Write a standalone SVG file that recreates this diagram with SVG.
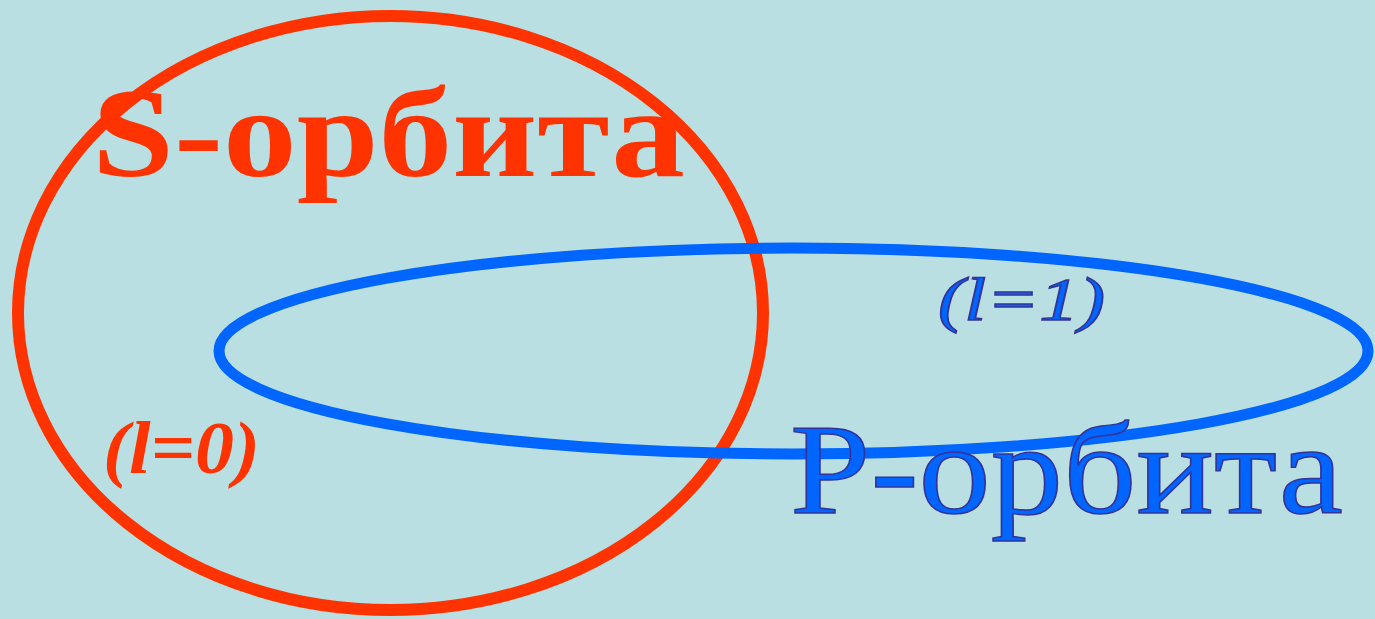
<svg xmlns="http://www.w3.org/2000/svg" width="1375" height="619" viewBox="0 0 1375 619">
  <style>
    .orb { fill: none; }
    .red { fill: #FF3300; }
    .blue { fill: #0066FF; stroke: #333399; stroke-width: 1.5; }
    .big { font-family: "Liberation Serif", "DejaVu Serif", serif; }
    .it { font-family: "Liberation Serif", "DejaVu Serif", serif; font-style: italic; }
  </style>
  <rect width="1375" height="619" fill="#B9DFE2"/>
  <g id="connectors"></g>
  <g id="s-orbit">
    <ellipse class="orb" cx="390.5" cy="313" rx="372.5" ry="297" stroke="#FF3300" stroke-width="12"/>
  </g>
  <g id="p-orbit">
    <ellipse class="orb" cx="793.5" cy="351" rx="574.5" ry="103" stroke="#0066FF" stroke-width="11"/>
  </g>
  <g id="s-label">
    <text class="big red" x="92" y="176" font-size="127" font-weight="bold" textLength="593" lengthAdjust="spacingAndGlyphs">S-орбита</text>
    <text class="it red" x="103" y="473" font-size="74" font-weight="bold" textLength="157" lengthAdjust="spacingAndGlyphs">(l=0)</text>
  </g>
  <g id="p-label">
    <text class="big blue" x="790" y="513" font-size="130" textLength="553" lengthAdjust="spacingAndGlyphs">P-орбита</text>
    <text class="it blue" x="938" y="320" font-size="62" textLength="167" lengthAdjust="spacingAndGlyphs">(l=1)</text>
  </g>
</svg>
